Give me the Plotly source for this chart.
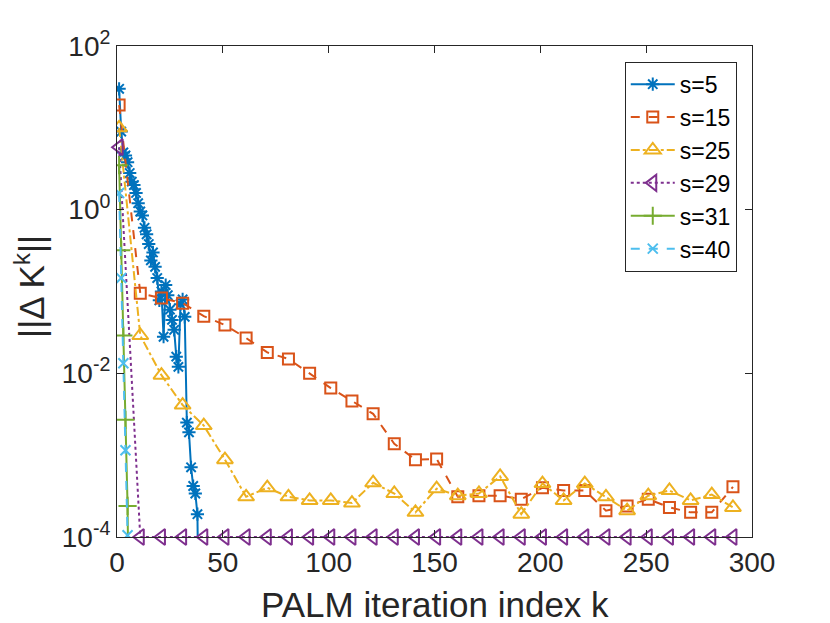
import plotly.graph_objects as go

# iteration indices
iters_dense_s5 = list(range(1, 40))
iters_sparse = list(range(1, 292, 10))
iters_fast = [1, 2, 3, 4, 5, 6]

# ||Delta K^k|| per sparsity level s
s5_vals = [30, 9, 5, 4.6, 3.8, 2.8, 2.2, 2.0, 1.6, 1.2,
           0.95, 0.85, 0.6, 0.5, 0.38, 0.24, 0.3, 0.2, 0.146, 0.078,
           0.1, 0.028, 0.12, 0.09, 0.06, 0.045, 0.034, 0.016, 0.012, 0.07,
           0.08, 0.049, 0.0025, 0.0019, 7.1e-4, 4.2e-4, 3.4e-4, 1.9e-4, 1e-6]
s15_vals = [19, 0.095, 0.083, 0.072, 0.050, 0.039, 0.027, 0.018, 0.015, 0.010,
            6.6e-3, 4.6e-3, 3.2e-3, 1.38e-3, 8.8e-4, 9.0e-4, 3.1e-4, 3.2e-4, 3.2e-4, 2.9e-4,
            4.0e-4, 3.7e-4, 3.7e-4, 2.1e-4, 2.4e-4, 2.9e-4, 2.3e-4, 2.0e-4, 2.0e-4, 4.1e-4]
s25_vals = [10, 0.029, 9.5e-3, 4.1e-3, 2.3e-3, 8.8e-4, 3.1e-4, 4.0e-4, 3.1e-4, 2.8e-4,
            2.8e-4, 2.6e-4, 4.6e-4, 3.4e-4, 2.0e-4, 3.9e-4, 3.2e-4, 3.4e-4, 5.5e-4, 1.9e-4,
            4.5e-4, 2.8e-4, 4.5e-4, 3.1e-4, 2.1e-4, 3.2e-4, 3.7e-4, 2.8e-4, 3.3e-4, 2.3e-4]
s29_vals = [5.8, 1e-4, 1e-4, 1e-4, 1e-4, 1e-4, 1e-4, 1e-4, 1e-4, 1e-4,
            1e-4, 1e-4, 1e-4, 1e-4, 1e-4, 1e-4, 1e-4, 1e-4, 1e-4, 1e-4,
            1e-4, 1e-4, 1e-4, 1e-4, 1e-4, 1e-4, 1e-4, 1e-4, 1e-4, 1e-4]
s31_vals = [3.5, 0.32, 0.029, 2.7e-3, 2.4e-4, 1e-6]
s40_vals = [1.6, 0.146, 0.0133, 1.15e-3, 1.05e-4, 1e-6]

x_ticks = [0, 50, 100, 150, 200, 250, 300]
y_ticks = [1e-4, 1e-2, 1, 1e2]
y_tick_text = ["10<sup>-4</sup>", "10<sup>-2</sup>", "10<sup>0</sup>", "10<sup>2</sup>"]

FONT = "Liberation Sans, Arial, sans-serif"
INK = "#262626"

series = [
    ("s=5", iters_dense_s5, s5_vals, "#0072BD", "solid", "asterisk-open", 11, True),
    ("s=15", iters_sparse, s15_vals, "#D95319", "dash", "square-open", 11, True),
    ("s=25", iters_sparse, s25_vals, "#EDB120", "dashdot", "triangle-up-open", 14, True),
    ("s=29", iters_sparse, s29_vals, "#7E2F8E", "dot", "triangle-left-open", 14, False),
    ("s=31", iters_fast, s31_vals, "#77AC30", "solid", "cross-thin-open", 13, True),
    ("s=40", iters_fast, s40_vals, "#4DBEEE", "dash", "x-thin-open", 10, True),
]

fig = go.Figure()
for name, xs, ys, color, dash, symbol, size, clip in series:
    fig.add_trace(go.Scatter(
        x=xs, y=ys, name=name, mode="lines+markers",
        line=dict(color=color, width=2, dash=dash),
        marker=dict(symbol=symbol, size=size, color=color,
                    line=dict(color=color, width=2)),
        cliponaxis=clip,
    ))

axis_common = dict(
    showline=True, linecolor=INK, linewidth=1, mirror="ticks",
    ticks="inside", ticklen=7, tickcolor=INK, showgrid=False, zeroline=False,
    tickfont=dict(family=FONT, size=28, color=INK),
)

fig.update_xaxes(range=[0, 300], tickvals=x_ticks, **axis_common)
fig.update_yaxes(type="log", range=[-4, 2], tickvals=y_ticks, ticktext=y_tick_text,
                 **axis_common)

# axis titles placed as annotations so their position can be set exactly
title_font = dict(family=FONT, size=35, color=INK)
fig.add_annotation(text="PALM iteration index k", xref="paper", yref="paper",
                   x=0.5, y=-0.138, xanchor="center", yanchor="middle",
                   showarrow=False, font=title_font)
fig.add_annotation(text="||\u0394 K<sup>k</sup>||", xref="paper", yref="paper",
                   x=-0.138, y=0.51, xanchor="center", yanchor="middle",
                   textangle=-90, showarrow=False, font=title_font)

fig.update_layout(
    width=830, height=623,
    margin=dict(l=109, r=86, t=38, b=94),
    paper_bgcolor="white", plot_bgcolor="white",
    showlegend=True,
    legend=dict(
        x=0.976, y=0.968, xanchor="right", yanchor="top",
        bgcolor="white", bordercolor=INK, borderwidth=1,
        font=dict(family=FONT, size=23, color="black"),
        itemwidth=44,
    ),
)

fig.write_html("out.html")
